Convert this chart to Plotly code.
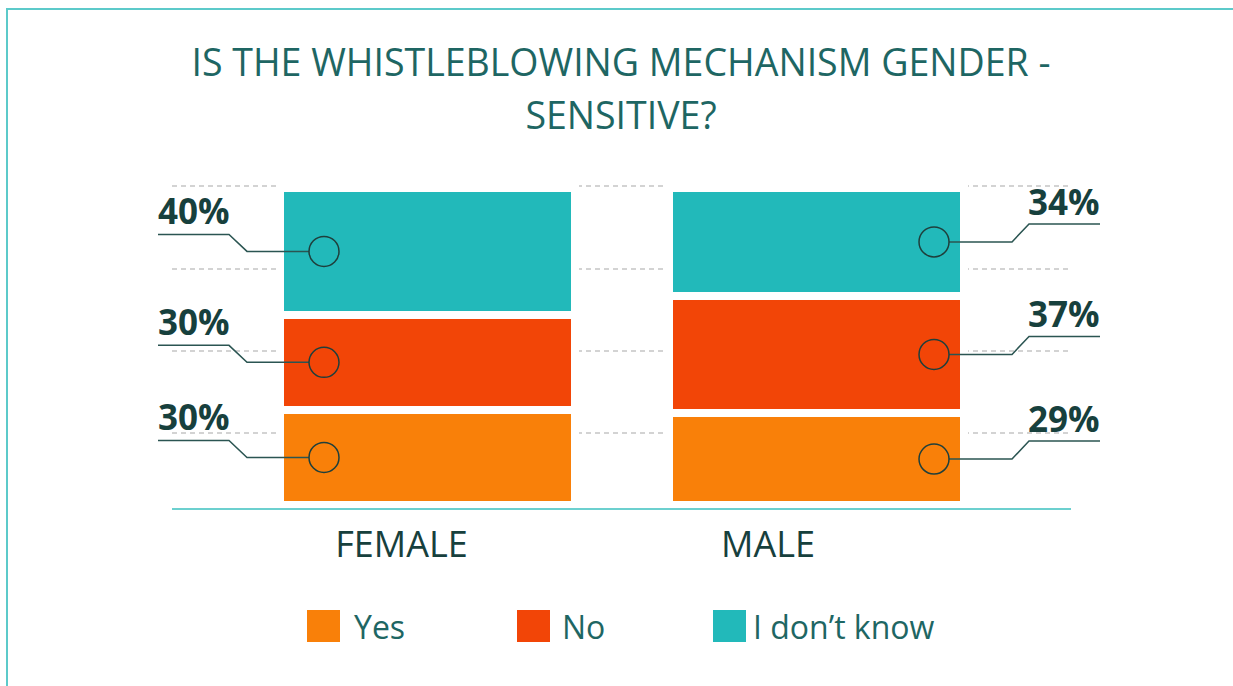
import plotly.graph_objects as go

# ---------------- data ----------------
CATEGORIES = ["FEMALE", "MALE"]
SERIES = ["Yes", "No", "I don’t know"]
YES = [30, 29]
NO = [30, 37]
DONT_KNOW = [40, 34]
SERIES_VALUES = [YES, NO, DONT_KNOW]
COLORS = ["#F98009", "#F24507", "#22B9BA"]
GRID_VALUES = [22.7, 48.6, 74.5, 100.6]

# ---------------- layout constants ----------------
W, H = 1233, 686
L, R = 172, 1071          # plot area, px
T, B = 150, 508
X_POS = [0, 1]
X_RANGE = [-0.6568, 1.6542]
Y_RANGE = [-0.946, 111.99]
BAR_WIDTH = 0.7584
GAP = 8
KX = (R - L) / (X_RANGE[1] - X_RANGE[0])

TITLE_COLOR = "#1E6663"
DARK = "#17403D"
LINE_COLOR = "#2B5552"
FONT = "Open Sans, Noto Sans, sans-serif"


def paper_x(px):
    return (px - L) / (R - L)


def paper_y(py):
    return (B - py) / (B - T)


def data_to_paper_x(v):
    return (v - X_RANGE[0]) / (X_RANGE[1] - X_RANGE[0])


fig = go.Figure()
for name, vals, col in zip(SERIES, SERIES_VALUES, COLORS):
    fig.add_trace(go.Bar(
        x=X_POS, y=vals, name=name, width=BAR_WIDTH,
        marker=dict(color=col, line=dict(color="white", width=GAP)),
        hoverinfo="name+y", showlegend=False,
    ))

shapes = []
annotations = []

# leader lines, circles and value labels
CIRCLE_DX = [-103.5, 117.5]   # circle centre offset from bar centre, px
R_C = 15
for ci, pos in enumerate(X_POS):
    cum = 0
    xa = data_to_paper_x(pos)
    cx = CIRCLE_DX[ci]
    for si, vals in enumerate(SERIES_VALUES):
        v = vals[ci]
        mid = cum + v / 2
        cum += v
        if ci == 0:
            path = (f"M {cx - R_C} 0 L {cx - 77} 0 L {cx - 95} 17 L {cx - 166} 17")
            ax_x, anchor = cx - 168, "left"
        else:
            path = (f"M {cx + R_C} 0 L {cx + 78} 0 L {cx + 95} 18 L {cx + 166} 18")
            ax_x, anchor = cx + 168, "right"
        shapes.append(dict(
            type="path", path=path, xref="paper", yref="y",
            xsizemode="pixel", xanchor=xa, ysizemode="pixel", yanchor=mid,
            line=dict(color=LINE_COLOR, width=1.5), layer="above",
        ))
        shapes.append(dict(
            type="circle", xref="paper", yref="y",
            xsizemode="pixel", xanchor=xa, ysizemode="pixel", yanchor=mid,
            x0=cx - R_C, x1=cx + R_C, y0=-R_C, y1=R_C,
            line=dict(color="#1F3F3C", width=1.5), fillcolor="rgba(0,0,0,0)",
            layer="above",
        ))
        annotations.append(dict(
            text=f"<b>{v}%</b>", xref="paper", yref="y", x=xa, y=mid,
            xshift=ax_x, yshift=15, xanchor=anchor, yanchor="bottom",
            showarrow=False, font=dict(family=FONT, size=35, color=DARK),
        ))

# outer frame
shapes.append(dict(
    type="rect", xref="paper", yref="paper",
    x0=paper_x(7), x1=paper_x(1245), y0=paper_y(9), y1=paper_y(700),
    line=dict(color="#5CCACA", width=2), fillcolor="rgba(0,0,0,0)",
    layer="below",
))

# legend (drawn manually to get large swatches)
LEG_SWATCH_X = [307, 517, 713]
LEG_TEXT_X = [352, 560, 751]
for name, col, sx, tx in zip(SERIES, COLORS, LEG_SWATCH_X, LEG_TEXT_X):
    shapes.append(dict(
        type="rect", xref="paper", yref="paper",
        x0=paper_x(sx), x1=paper_x(sx + 33), y0=paper_y(610), y1=paper_y(642),
        line=dict(width=0), fillcolor=col,
    ))
    annotations.append(dict(
        text=name, xref="paper", yref="paper",
        x=paper_x(tx), y=paper_y(626), xanchor="left", yanchor="middle",
        showarrow=False, font=dict(family=FONT, size=32, color=TITLE_COLOR),
    ))

CAT_SHIFT = [-26, -48.5]
fig.update_layout(
    width=W, height=H,
    margin=dict(l=L, r=W - R, t=T, b=H - B, pad=0),
    paper_bgcolor="white", plot_bgcolor="white",
    barmode="stack", bargap=0,
    title=dict(
        text=('<span style="font-size:37.5px">IS THE WHISTLEBLOWING MECHANISM GENDER -</span>'
              '<br><span style="font-size:37.5px">SENSITIVE?</span>'),
        font=dict(family=FONT, size=40.8, color=TITLE_COLOR),
        x=621 / W, xanchor="center", xref="container",
        y=1 - 76 / H, yanchor="top", yref="container",
    ),
    xaxis=dict(
        range=X_RANGE, showgrid=False, zeroline=False,
        tickvals=[p + s / KX for p, s in zip(X_POS, CAT_SHIFT)],
        ticktext=CATEGORIES, ticks="",
        tickfont=dict(family=FONT, size=36, color=DARK),
        showline=True, linecolor="#6CD0CF", linewidth=2,
        ticklabelstandoff=4,
    ),
    yaxis=dict(
        range=Y_RANGE, tickvals=GRID_VALUES, showticklabels=False,
        showgrid=True, gridcolor="#D3D3D3", gridwidth=1.5, griddash="5px,4px",
        zeroline=False, ticks="",
    ),
    shapes=shapes, annotations=annotations,
)

fig.write_html("out.html", config={"displayModeBar": False},
               post_script="document.body.style.margin='0px';")
